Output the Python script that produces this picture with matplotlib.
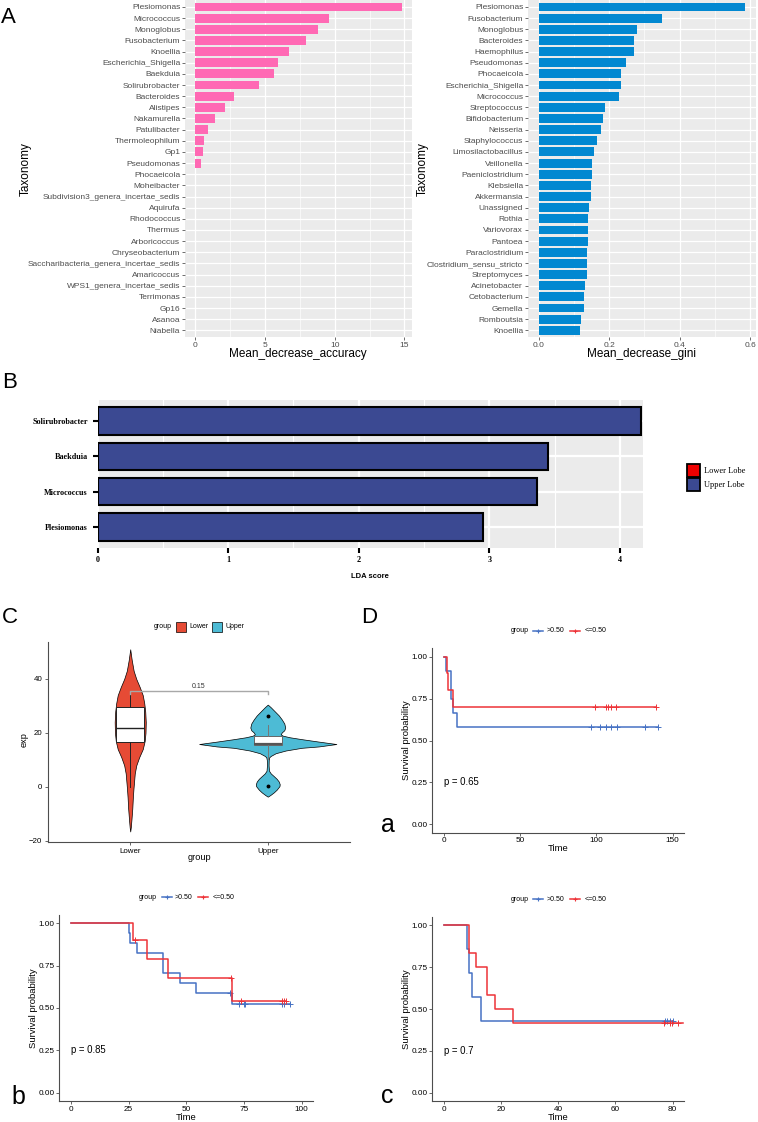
import numpy as np
import matplotlib
matplotlib.use("Agg")
import matplotlib.pyplot as plt
from matplotlib.patches import Rectangle
from matplotlib.lines import Line2D

plt.rcParams['font.family'] = ['Liberation Sans', 'DejaVu Sans']

W, H = 758, 1122

# ---------- A: random forest importance ----------
acc_taxa = ['Plesiomonas', 'Micrococcus', 'Monoglobus', 'Fusobacterium', 'Knoellia',
            'Escherichia_Shigella', 'Baekduia', 'Solirubrobacter', 'Bacteroides', 'Alistipes',
            'Nakamurella', 'Patulibacter', 'Thermoleophilum', 'Gp1', 'Pseudomonas',
            'Phocaeicola', 'Moheibacter', 'Subdivision3_genera_incertae_sedis', 'Aquirufa',
            'Rhodococcus', 'Thermus', 'Arboricoccus', 'Chryseobacterium',
            'Saccharibacteria_genera_incertae_sedis', 'Amaricoccus',
            'WPS1_genera_incertae_sedis', 'Terrimonas', 'Gp16', 'Asanoa', 'Niabella']
acc_vals = [14.8, 9.6, 8.83, 7.97, 6.69, 5.9, 5.62, 4.59, 2.75, 2.15, 1.41, 0.89, 0.6, 0.53, 0.41,
            0, 0, 0, 0, 0, 0, 0, 0, 0, 0, 0, 0, 0, 0, 0]

gini_taxa = ['Plesiomonas', 'Fusobacterium', 'Monoglobus', 'Bacteroides', 'Haemophilus',
             'Pseudomonas', 'Phocaeicola', 'Escherichia_Shigella', 'Micrococcus', 'Streptococcus',
             'Bifidobacterium', 'Neisseria', 'Staphylococcus', 'Limosilactobacillus', 'Veillonella',
             'Paeniclostridium', 'Klebsiella', 'Akkermansia', 'Unassigned', 'Rothia',
             'Variovorax', 'Pantoea', 'Paraclostridium', 'Clostridium_sensu_stricto',
             'Streptomyces', 'Acinetobacter', 'Cetobacterium', 'Gemella', 'Romboutsia', 'Knoellia']
gini_vals = [0.586, 0.351, 0.278, 0.272, 0.272, 0.248, 0.235, 0.234, 0.227, 0.189,
             0.183, 0.177, 0.167, 0.156, 0.152, 0.152, 0.150, 0.148, 0.143, 0.140,
             0.140, 0.139, 0.138, 0.137, 0.136, 0.132, 0.130, 0.128, 0.120, 0.117]

# ---------- B: LEfSe ----------
lda_taxa = ['Solirubrobacter', 'Baekduia', 'Micrococcus', 'Plesiomonas']
lda_vals = [4.16, 3.45, 3.36, 2.95]
lda_groups = ['Lower Lobe', 'Upper Lobe']

# ---------- C: violin outlines (value, half width) ----------
lower_y = [51, 47, 43, 40, 37, 34, 31, 28, 24, 20, 17, 14, 11, 8, 5, 2, -1, -4, -8, -12, -15, -16.5]
lower_w = [0, 0.011, 0.025, 0.044, 0.069, 0.091, 0.102, 0.109, 0.113, 0.111, 0.105, 0.091,
           0.065, 0.044, 0.033, 0.028, 0.023, 0.019, 0.015, 0.009, 0.004, 0]
upper_y = [30.5, 29.5, 28, 26.5, 25, 23.5, 22, 21, 20.2, 19.5, 19.0, 18.4, 17.7, 16.8, 15.9,
           15.0, 14.5, 13.5, 12.5, 11.5, 11, 10, 8, 6, 5, 4, 3, 2, 1, 0.3, -1, -2, -3, -3.6]
upper_w = [0, 0.022, 0.051, 0.080, 0.102, 0.120, 0.127, 0.120, 0.102, 0.094, 0.109, 0.160,
           0.247, 0.370, 0.499, 0.370, 0.247, 0.131, 0.058, 0.022, 0.011, 0.007, 0.006, 0.009,
           0.022, 0.044, 0.065, 0.080, 0.087, 0.085, 0.065, 0.044, 0.018, 0]
lower_box = dict(med=21.8, q1=16.5, q3=29.5, whislo=0.1, whishi=35.4, fliers=[])
upper_box = dict(med=16.0, q1=15.5, q3=18.7, whislo=10.5, whishi=23.0, fliers=[26.1, 0.4])
p_violin = '0.15'

# ---------- D: Kaplan-Meier steps (times, survival, end, censor times) ----------
a_hi = ([0, 1.5, 4.8, 6.1, 8.4], [1.0, 0.917, 0.75, 0.667, 0.583], 140.5,
        [96.3, 102.4, 106.3, 109.4, 113.3, 131.8, 140.5])
a_lo = ([0, 2.0, 3.1, 6.1], [1.0, 0.9, 0.8, 0.7], 139,
        [99, 106.3, 107.8, 109.4, 113, 139])
b_hi = ([0, 25.0, 25.7, 28.8, 40.0, 47.2, 54.1, 69.7],
        [1.0, 0.941, 0.882, 0.824, 0.706, 0.647, 0.588, 0.523], 94.8,
        [69.1, 72.7, 75.2, 75.6, 91.4, 92.4, 94.8])
b_lo = ([0, 27.1, 32.9, 42.2, 70.0], [1.0, 0.9, 0.7875, 0.675, 0.54], 93.1,
        [27.8, 69.2, 73.7, 91.4, 92.4, 93.1])
c_hi = ([0, 8.0, 9.0, 10.0, 12.9], [1.0, 0.857, 0.714, 0.571, 0.429], 80.1,
        [77.2, 78.0, 79.0, 80.1])
c_lo = ([0, 9.0, 11.2, 15.0, 17.9, 24.1], [1.0, 0.833, 0.75, 0.583, 0.5, 0.417], 83.6,
        [76.9, 79.0, 79.8, 81.9])
km_labels = ['>0.50', '<=0.50']

PINK = '#FF69B4'
BLUE = '#0288D1'
NAVY = '#3B4992'
KM_BLUE = '#4672C4'
KM_RED = '#EE3338'
SPINE = '#4D4D4D'

fig = plt.figure(figsize=(W / 100, H / 100), dpi=100)


def add_ax(l, t, r, b):
    return fig.add_axes([l / W, 1 - b / H, (r - l) / W, (b - t) / H])


def ftext(x, y, s, **kw):
    fig.text(x / W, 1 - y / H, s, **kw)


def fline(x1, x2, y, color, marker=None):
    fig.add_artist(Line2D([x1 / W, x2 / W], [1 - y / H, 1 - y / H], transform=fig.transFigure,
                          color=color, lw=1.1))
    if marker:
        fig.add_artist(Line2D([(x1 + x2) / 2 / W], [1 - y / H], transform=fig.transFigure,
                              color=color, marker=marker, ms=3.5, mew=0.8, ls='none'))


def fbox(x, y, w, h, fc, lw=0.6):
    fig.add_artist(Rectangle((x / W, 1 - (y + h) / H), w / W, h / H, transform=fig.transFigure,
                             facecolor=fc, edgecolor='black', lw=lw))


# ---------- panel A ----------
def rf_panel(box, taxa, vals, color, xlim, ticks, minor, ticklabels):
    ax = add_ax(*box)
    ax.set_facecolor('#EBEBEB')
    y = np.arange(len(taxa))
    ax.barh(y, vals, height=0.8, color=color, zorder=3)
    ax.set_ylim(len(taxa) - 0.4, -0.6)
    ax.set_xlim(*xlim)
    ax.set_yticks(y, taxa)
    ax.set_xticks(ticks, ticklabels)
    ax.set_xticks(minor, minor=True)
    ax.grid(which='major', color='white', lw=0.9, zorder=0)
    ax.grid(which='minor', axis='x', color='white', lw=0.45, zorder=0)
    ax.tick_params(which='major', length=2, width=0.5, color='#333333', labelsize=6,
                   labelcolor='#4D4D4D', pad=1.5)
    ax.tick_params(which='minor', length=0)
    for s in ax.spines.values():
        s.set_visible(False)
    return ax


rf_panel((185, 0.3, 412, 337), acc_taxa, acc_vals, PINK, (-0.74, 15.54),
         [0, 5, 10, 15], [2.5, 7.5, 12.5], ['0', '5', '10', '15'])
rf_panel((528, 0.3, 756, 337), gini_taxa, gini_vals, BLUE, (-0.030, 0.6166),
         [0, 0.2, 0.4, 0.6], [0.1, 0.3, 0.5], ['0.0', '0.2', '0.4', '0.6'])
ftext(26, 169, 'Taxonomy', rotation=90, ha='center', va='center', fontsize=8.5)
ftext(423, 169, 'Taxonomy', rotation=90, ha='center', va='center', fontsize=8.5)
ftext(298, 354, 'Mean_decrease_accuracy', ha='center', va='center', fontsize=8.5)
ftext(642, 354, 'Mean_decrease_gini', ha='center', va='center', fontsize=8.5)

# ---------- panel B ----------
axB = add_ax(97.5, 400, 643, 548)
axB.set_facecolor('#EBEBEB')
yb = np.arange(len(lda_taxa))
axB.barh(yb, lda_vals, height=0.78, color=NAVY, edgecolor='black', lw=1.5, zorder=3)
axB.set_xlim(0, 4.175)
axB.set_ylim(3.6, -0.6)
axB.set_xticks([0, 1, 2, 3, 4])
axB.set_xticks([0.5, 1.5, 2.5, 3.5], minor=True)
axB.set_yticks(yb)
axB.set_yticklabels(lda_taxa, fontfamily='Liberation Serif', fontweight='bold', fontsize=5.85)
axB.set_xticklabels(['0', '1', '2', '3', '4'], fontfamily='Liberation Serif',
                    fontweight='bold', fontsize=5.85)
axB.grid(which='major', color='white', lw=1.6, zorder=0)
axB.grid(which='minor', axis='x', color='white', lw=0.8, zorder=0)
axB.tick_params(which='major', length=3.5, width=1.5, color='black', pad=3.5)
axB.tick_params(axis='x', which='major', pad=2)
axB.tick_params(which='minor', length=0)
for s in axB.spines.values():
    s.set_visible(False)
ftext(370, 576, 'LDA score', ha='center', va='center', fontsize=5.5, fontweight='bold')
for i, (lab, col) in enumerate(zip(lda_groups, ['#EE0000', NAVY])):
    fbox(687, 464 + 14 * i, 13, 13, col, lw=1.3)
    ftext(704, 470.7 + 14 * i, lab, ha='left', va='center', fontsize=6,
          fontfamily='Liberation Serif')

# ---------- panel C ----------
axC = add_ax(47.7, 641.7, 350.3, 842.3)
for pos, yy, ww, col in [(1, lower_y, lower_w, '#E64B35'), (2, upper_y, upper_w, '#4DBBD5')]:
    yy = np.array(yy)
    ww = np.array(ww)
    axC.fill_betweenx(yy, pos - ww, pos + ww, facecolor=col, edgecolor='black', lw=0.5, zorder=2)
axC.bxp([lower_box], positions=[1], widths=0.2, patch_artist=True, showcaps=False,
        boxprops=dict(facecolor='white', edgecolor='#222222', lw=0.7),
        medianprops=dict(color='#222222', lw=1.0),
        whiskerprops=dict(color='#222222', lw=0.7), zorder=3)
axC.bxp([upper_box], positions=[2], widths=0.2, patch_artist=True, showcaps=False,
        boxprops=dict(facecolor='white', edgecolor='#666666', lw=0.7),
        medianprops=dict(color='#555555', lw=1.6),
        whiskerprops=dict(color='#777777', lw=0.7),
        flierprops=dict(marker='o', markersize=1.8, markerfacecolor='black',
                        markeredgecolor='black'), zorder=3)
axC.plot([1, 1, 2, 2], [34.6, 35.4, 35.4, 34.4], color='#A8A8A8', lw=1.0, zorder=4)
axC.text(1.5, 36.0, p_violin, ha='center', va='bottom', fontsize=5, color='#333333')
axC.set_xlim(0.4, 2.6)
axC.set_ylim(-20.5, 53.8)
axC.set_xticks([1, 2], ['Lower', 'Upper'])
axC.set_yticks([-20, 0, 20, 40])
axC.tick_params(length=2.5, width=0.6, labelsize=5.7, pad=1.5, color=SPINE)
for s in ['top', 'right']:
    axC.spines[s].set_visible(False)
for s in ['left', 'bottom']:
    axC.spines[s].set_color(SPINE)
    axC.spines[s].set_linewidth(0.8)
ftext(24.5, 740, 'exp', rotation=90, ha='center', va='center', fontsize=6.6)
ftext(199, 858, 'group', ha='center', va='center', fontsize=6.6)
ftext(163, 626.5, 'group', ha='center', va='center', fontsize=5)
fbox(176, 621.5, 10, 10, '#E64B35', lw=0.5)
ftext(189.5, 626.5, 'Lower', ha='left', va='center', fontsize=5)
fbox(212, 621.5, 10, 10, '#4DBBD5', lw=0.5)
ftext(225.5, 626.5, 'Upper', ha='left', va='center', fontsize=5)


# ---------- panel D ----------
def surv_at(times, surv, t):
    idx = np.searchsorted(times, t, side='right') - 1
    return np.array(surv)[idx]


def km_panel(box, xlim, xticks, curves, pval, leg_y):
    l, t, r, b = box
    ax = add_ax(*box)
    for (times, surv, end, cens), col in zip(curves, [KM_BLUE, KM_RED]):
        ax.step(list(times) + [end], list(surv) + [surv[-1]], where='post', color=col, lw=1.1)
        ax.plot(cens, surv_at(times, surv, cens), ls='none', marker='+', ms=4, mew=0.7,
                color=col)
    ax.set_xlim(*xlim)
    ax.set_ylim(-0.05, 1.05)
    ax.set_xticks(xticks)
    ax.set_yticks([0, 0.25, 0.5, 0.75, 1.0], ['0.00', '0.25', '0.50', '0.75', '1.00'])
    ax.tick_params(length=2, width=0.6, labelsize=5.9, pad=1.2, color=SPINE)
    for s in ['top', 'right']:
        ax.spines[s].set_visible(False)
    for s in ['left', 'bottom']:
        ax.spines[s].set_color(SPINE)
        ax.spines[s].set_linewidth(0.8)
    ax.text(0, 0.25, 'p = ' + pval, ha='left', va='center', fontsize=6.9)
    cx = (l + r) / 2
    ftext(l - 25.6, (t + b) / 2, 'Survival probability', rotation=90, ha='center',
          va='center', fontsize=6.8)
    ftext(cx, b + 16, 'Time', ha='center', va='center', fontsize=6.8)
    ftext(cx - 38.5, leg_y, 'group', ha='center', va='center', fontsize=5)
    fline(cx - 24.7, cx - 14.7, leg_y, KM_BLUE, '+')
    ftext(cx - 11.5, leg_y, km_labels[0], ha='left', va='center', fontsize=5)
    fline(cx + 12, cx + 22, leg_y, KM_RED, '+')
    ftext(cx + 26, leg_y, km_labels[1], ha='left', va='center', fontsize=5)
    return ax


km_panel((432.3, 648.3, 684, 832.7), (-7.5, 157.5), [0, 50, 100, 150], [a_hi, a_lo], '0.65', 630.7)
km_panel((59.3, 914.8, 313.3, 1101.2), (-5, 105), [0, 25, 50, 75, 100], [b_hi, b_lo], '0.85', 897.3)
km_panel((432.3, 916.9, 684, 1101.1), (-4, 84), [0, 20, 40, 60, 80], [c_hi, c_lo], '0.7', 899.3)

# panel letters
ftext(1, 23.3, 'A', fontsize=16, va='baseline', ha='left')
ftext(2, 388.3, 'B', fontsize=16, va='baseline', ha='left')
ftext(1.5, 623.3, 'C', fontsize=16, va='baseline', ha='left')
ftext(361, 623.3, 'D', fontsize=16, va='baseline', ha='left')
ftext(381, 832, 'a', fontsize=18, va='baseline', ha='left')
ftext(11, 1104, 'b', fontsize=18, va='baseline', ha='left')
ftext(381, 1103, 'c', fontsize=18, va='baseline', ha='left')

fig.savefig('out.png', dpi=100)
